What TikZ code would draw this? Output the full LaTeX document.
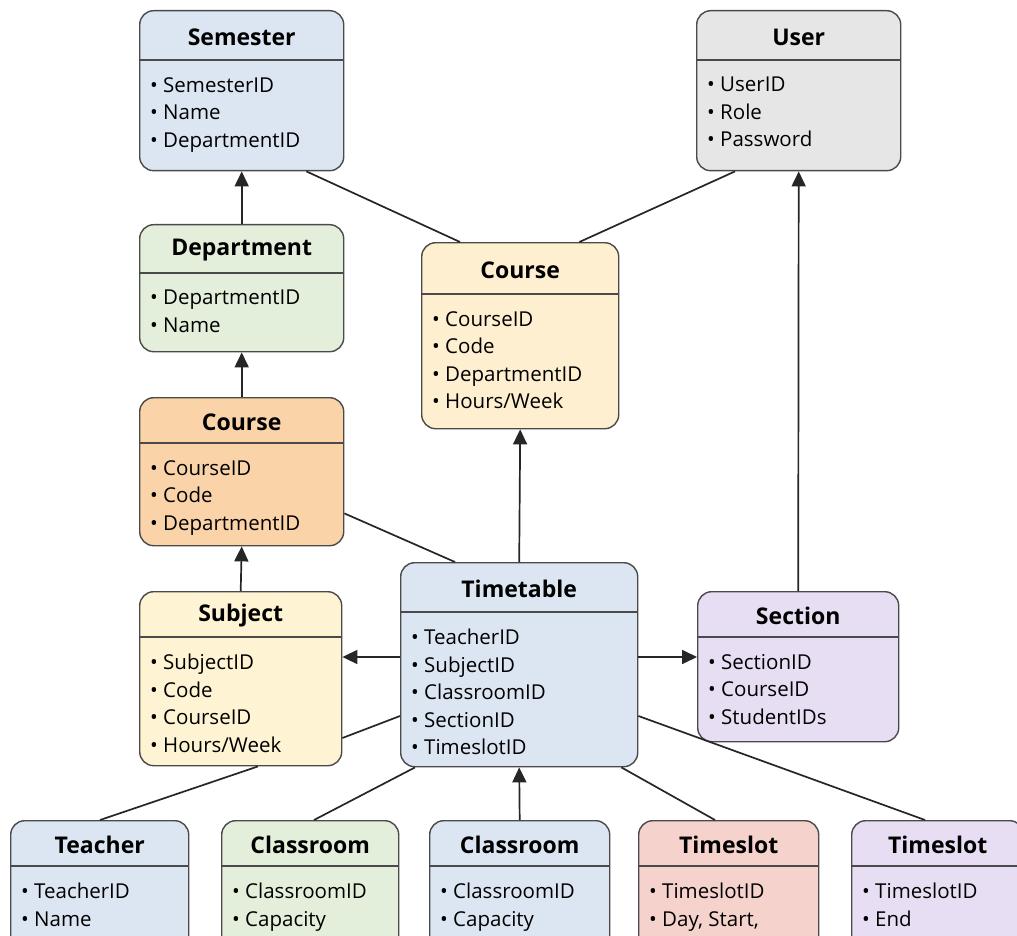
\documentclass[tikz,border=0pt]{standalone}
\usepackage{fontspec}
\setmainfont{Open Sans}
\usetikzlibrary{calc,arrows.meta}

\definecolor{semblue}{HTML}{DCE6F2}
\definecolor{usergray}{HTML}{E6E6E6}
\definecolor{deptgreen}{HTML}{E3EFDB}
\definecolor{courseyel}{HTML}{FDEFD0}
\definecolor{courseorg}{HTML}{FAD4A8}
\definecolor{subjyel}{HTML}{FEF4D3}
\definecolor{secpurp}{HTML}{E8DEF3}
\definecolor{slotred}{HTML}{F6D2CD}
\definecolor{edgegray}{HTML}{4A4A4A}

\tikzset{
  entitybox/.style={draw=edgegray, line width=1.4pt, rounded corners=14pt, inner sep=0pt},
  titletext/.style={font=\fontsize{23}{27}\selectfont\bfseries, inner sep=0pt},
  itemtext/.style={font=\fontsize{20.5}{27.5}\selectfont, align=left, anchor=north west, inner sep=0pt},
  headline/.style={draw=edgegray, line width=1.4pt},
  link/.style={line width=1.7pt, black!85},
  fk/.style={link, -{Triangle[length=15pt,width=14pt]}},
}

% name, x, y, width, height, fill, title, header height, items
\newcommand{\entity}[9]{%
  \node[entitybox, fill=#6, minimum width=#4pt, minimum height=#5pt, anchor=north west] (#1) at (#2,#3) {};
  \node[titletext] at ($(#1.north)+(0,#8/2+2)$) {#7};
  \draw[headline] ($(#1.north west)+(0,#8)$) -- ($(#1.north east)+(0,#8)$);
  \node[itemtext] at ($(#1.north west)+(11,#8+17)$) {#9};}
\newcommand{\itm}{\textbullet\ }

\begin{document}
\begin{tikzpicture}[x=1pt,y=-1pt]
    \useasboundingbox (0,0) rectangle (1017,936);
    \clip (0,0) rectangle (1017,936);
    \fill[white] (0,0) rectangle (1017,936);

    % upper part
    \entity{Semester}{139}{10}{204}{160}{semblue}{Semester}{50}{\itm SemesterID\\\itm Name\\\itm DepartmentID}
    \entity{User}{696}{10}{204}{160}{usergray}{User}{50}{\itm UserID\\\itm Role\\\itm Password}
    \entity{Department}{139}{224}{204}{127}{deptgreen}{Department}{49}{\itm DepartmentID\\\itm Name}
    \entity{CourseA}{421}{242}{197}{186}{courseyel}{Course}{52}{\itm CourseID\\\itm Code\\\itm DepartmentID\\\itm Hours/Week}
    \entity{CourseB}{139}{397}{204}{148}{courseorg}{Course}{46}{\itm CourseID\\\itm Code\\\itm DepartmentID}

    % middle row
    \entity{Subject}{139}{591}{202}{174}{subjyel}{Subject}{46}{\itm SubjectID\\\itm Code\\\itm CourseID\\\itm Hours/Week}
    \entity{Timetable}{400}{562}{237}{204}{semblue}{Timetable}{50}{\itm TeacherID\\\itm SubjectID\\\itm ClassroomID\\\itm SectionID\\\itm TimeslotID}
    \entity{Section}{697}{591}{201}{150}{secpurp}{Section}{46}{\itm SectionID\\\itm CourseID\\\itm StudentIDs}

    % bottom row (cut off)
    \entity{Teacher}{10}{820}{178}{140}{semblue}{Teacher}{46}{\itm TeacherID\\\itm Name}
    \entity{ClassroomA}{221}{820}{177}{140}{deptgreen}{Classroom}{46}{\itm ClassroomID\\\itm Capacity}
    \entity{ClassroomB}{429}{820}{180}{140}{semblue}{Classroom}{46}{\itm ClassroomID\\\itm Capacity}
    \entity{TimeslotA}{638}{820}{180}{140}{slotred}{Timeslot}{46}{\itm TimeslotID\\\itm Day, Start,}
    \entity{TimeslotB}{851}{820}{172}{140}{secpurp}{Timeslot}{46}{\itm TimeslotID\\\itm End}

    % references
    \draw[fk] (Department.north) -- (Semester.south);
    \draw[fk] (CourseB.north) -- (Department.south);
    \draw[fk] (Subject.north) -- (CourseB.south);
    \draw[fk] (Section.north) -- (User.south);
    \draw[fk] (Timetable.north) -- (CourseA.south);
    \draw[fk] (ClassroomB.north) -- (Timetable.south);
    \coordinate (ttl) at ($(Timetable.north west)+(0,95)$);
    \coordinate (ttr) at ($(Timetable.north east)+(0,95)$);
    \draw[fk] (ttl) -- (ttl -| Subject.east);
    \draw[fk] (ttr) -- (ttr -| Section.west);

    % plain links
    \draw[link] ($(Semester.south east)+(-38,0)$) -- ($(CourseA.north west)+(39,0)$);
    \draw[link] ($(User.south west)+(39,0)$) -- ($(CourseA.north east)+(-40,0)$);
    \draw[link] ($(CourseB.south east)+(0,-33)$) -- ($(Timetable.north west)+(55,0)$);
    \draw[link] ($(Timetable.north west)+(0,154)$) -- ($(Subject.north east)+(0,147)$);
    \draw[link] ($(Subject.south west)+(119,0)$) -- ($(Teacher.north west)+(90,0)$);
    \draw[link] ($(Timetable.south west)+(15,0)$) -- ($(ClassroomA.north west)+(93,0)$);
    \draw[link] ($(Timetable.south east)+(-17,0)$) -- ($(TimeslotA.north west)+(77,0)$);
    \draw[link] ($(Timetable.north east)+(0,154)$) -- ($(TimeslotB.north west)+(74,0)$);
\end{tikzpicture}
\end{document}
